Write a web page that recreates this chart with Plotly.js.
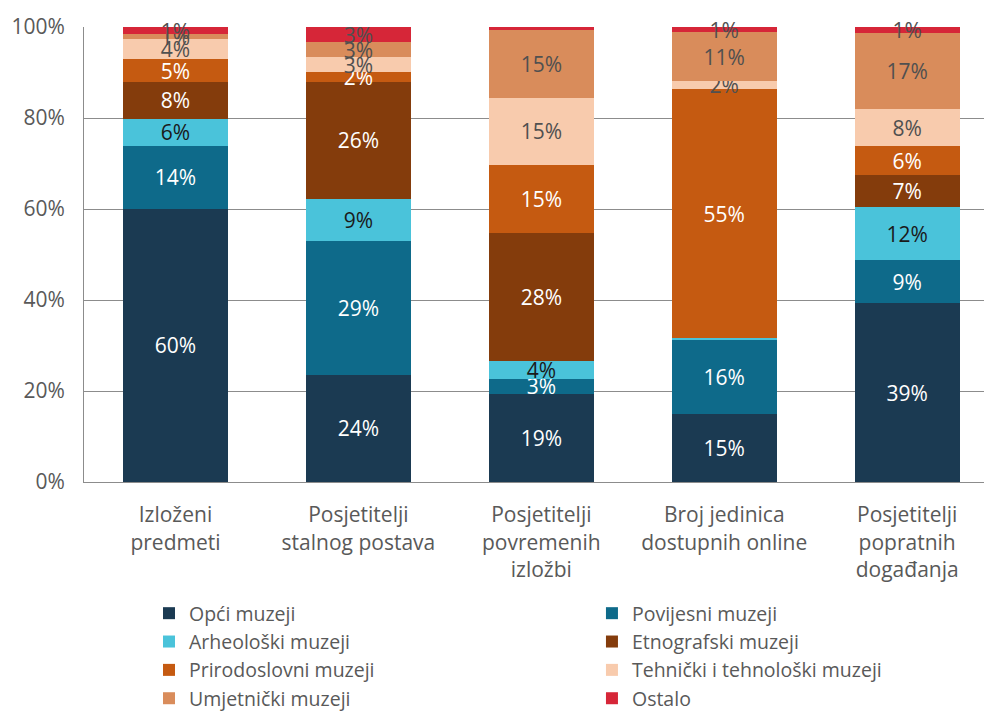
<!DOCTYPE html>
<html>
<head>
<meta charset="utf-8">
<script src="https://cdn.plot.ly/plotly-3.0.1.min.js"></script>
<style>html,body{margin:0;padding:0;background:#fff;}#chart{width:985px;height:711px;}</style>
</head>
<body>
<div id="chart"></div>
<script>
const categories = ["Izloženi<br>predmeti", "Posjetitelji<br>stalnog postava", "Posjetitelji<br>povremenih<br>izložbi", "Broj jedinica<br>dostupnih online", "Posjetitelji<br>popratnih<br>događanja"];
const seriesNames = ["Opći muzeji", "Povijesni muzeji", "Arheološki muzeji", "Etnografski muzeji", "Prirodoslovni muzeji", "Tehnički i tehnološki muzeji", "Umjetnički muzeji", "Ostalo"];
const opci        = [60.1, 23.6, 19.4, 14.9, 39.3];
const povijesni   = [13.8, 29.3, 3.3, 16.4, 9.4];
const arheoloski  = [5.9, 9.4, 4.0, 0.3, 11.7];
const etnografski = [8.1, 25.6, 28.0, 0.0, 7.1];
const prirodoslovni = [5.0, 2.2, 14.9, 54.8, 6.3];
const tehnicki    = [4.4, 3.3, 14.9, 1.8, 8.1];
const umjetnicki  = [1.2, 3.3, 14.9, 10.6, 16.7];
const ostalo      = [1.4, 3.3, 0.6, 1.2, 1.4];

const seriesValues = [opci, povijesni, arheoloski, etnografski, prirodoslovni, tehnicki, umjetnicki, ostalo];
const colors = ["#1B3A52", "#0E6A8A", "#4AC3DA", "#843C0C", "#C55A11", "#F8CBAD", "#D98C5B", "#D62638"];
const textColors = ["#FFFFFF", "#FFFFFF", "#1A1A1A", "#FFFFFF", "#FFFFFF", "#505050", "#505050", "#505050"];

const FONT = "Open Sans, sans-serif";
const traces = seriesValues.map((vals, i) => ({
  type: "bar",
  name: seriesNames[i],
  legend: i % 2 === 0 ? "legend" : "legend2",
  x: categories,
  y: vals,
  text: vals.map(v => Math.round(v) > 0 ? Math.round(v) + "%" : ""),
  textposition: "inside",
  insidetextanchor: "middle",
  constraintext: "none",
  cliponaxis: false,
  textfont: {family: FONT, size: 21, color: textColors[i]},
  marker: {color: colors[i], line: {width: 0}},
  width: 0.574,
  hoverinfo: "name+y"
}));

const legendBase = {
  orientation: "v",
  xanchor: "left",
  yref: "container",
  y: 1 - 594 / 711, yanchor: "top",
  traceorder: "normal",
  font: {family: FONT, size: 19.5, color: "#595959"},
  itemwidth: 30,
  tracegroupgap: 0,
  bgcolor: "rgba(0,0,0,0)"
};

const layout = {
  width: 985, height: 711,
  margin: {l: 84, r: 1, t: 27, b: 229},
  barmode: "stack",
  paper_bgcolor: "#FFFFFF",
  plot_bgcolor: "#FFFFFF",
  font: {family: FONT, size: 21, color: "#595959"},
  showlegend: true,
  xaxis: {
    type: "category",
    range: [-0.5, 4.42],
    showline: true, linecolor: "#8C8C8C", linewidth: 1,
    showgrid: false, zeroline: false,
    ticks: "outside", ticklen: 14, tickcolor: "rgba(0,0,0,0)",
    tickfont: {family: FONT, size: 21, color: "#595959"}
  },
  yaxis: {
    range: [0, 100],
    dtick: 20,
    ticksuffix: "%",
    showline: true, linecolor: "#8C8C8C", linewidth: 1,
    showgrid: true, gridcolor: "#8C8C8C", gridwidth: 1,
    zeroline: false,
    ticks: "outside", ticklen: 14, tickcolor: "rgba(0,0,0,0)",
    tickfont: {family: FONT, size: 21, color: "#595959"}
  },
  legend: Object.assign({}, legendBase, {x: 0.0722}),
  legend2: Object.assign({}, legendBase, {x: 0.5644})
};

Plotly.newPlot("chart", traces, layout, {displayModeBar: false, staticPlot: true});
</script>
</body>
</html>
